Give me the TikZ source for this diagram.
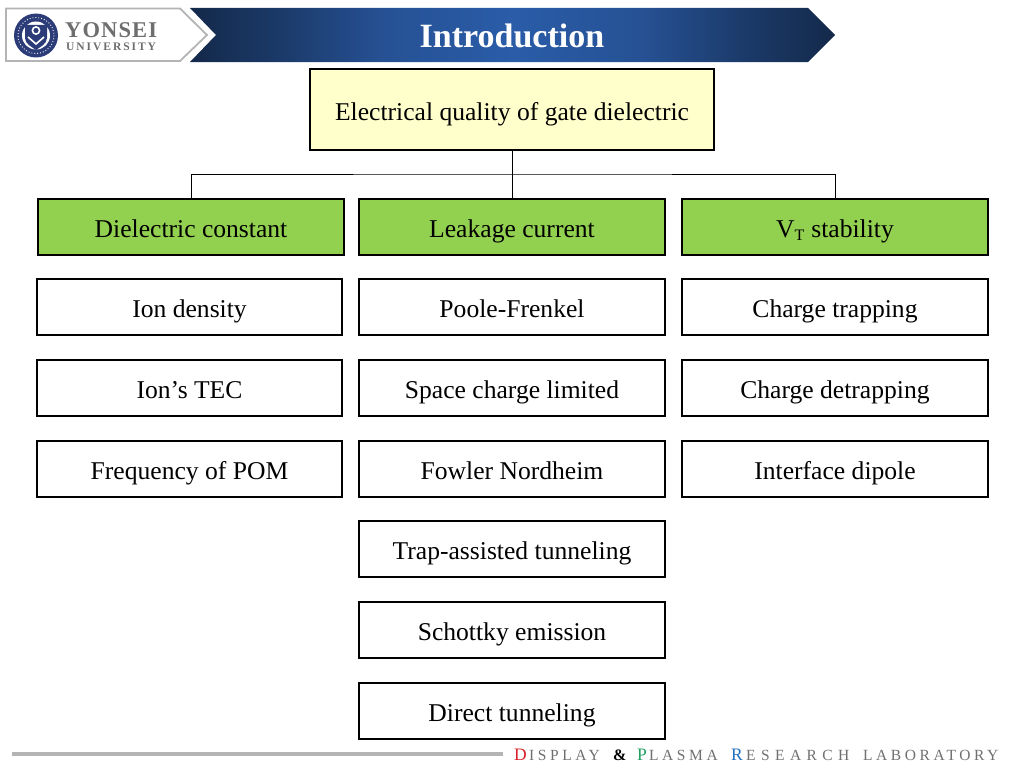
\documentclass[tikz,border=0pt]{standalone}
\usepackage{fontspec}
\setmainfont{Liberation Serif}
\usetikzlibrary{calc}
\definecolor{bandDark}{HTML}{14294A}
\definecolor{bandMid}{HTML}{2A5CA8}
\definecolor{bandA}{HTML}{1B3A69}
\definecolor{bandB}{HTML}{265194}
\definecolor{crest}{HTML}{2B3C78}
\definecolor{framegrey}{HTML}{B4B4B4}
\definecolor{wordgrey}{HTML}{6E6E6E}
\definecolor{rootfill}{HTML}{FFFFCC}
\definecolor{headfill}{HTML}{92D050}
\definecolor{footgrey}{HTML}{707070}
\definecolor{initD}{HTML}{D8202A}
\definecolor{initP}{HTML}{1FA060}
\definecolor{initR}{HTML}{2070C0}
\pgfdeclarehorizontalshading{bandshade}{100bp}{color(0bp)=(bandDark); color(25bp)=(bandDark); color(32bp)=(bandA); color(40bp)=(bandB); color(50bp)=(bandMid); color(60bp)=(bandB); color(68bp)=(bandA); color(75bp)=(bandDark); color(100bp)=(bandDark)}
\newcommand{\bodysize}{\fontsize{25.6}{29}\selectfont}
\tikzset{
  x=1pt,y=-1pt,
  boxbase/.style={draw=black,line width=2pt,text=black,font=\bodysize,inner sep=0pt,align=center,text height=21.5pt,text depth=0.5pt},
  rootbox/.style={boxbase,fill=rootfill,minimum width=403.5pt,minimum height=80.5pt},
  headbox/.style={boxbase,fill=headfill,minimum width=305.5pt,minimum height=56pt},
  itembox/.style={boxbase,fill=white,minimum width=305.5pt,minimum height=56pt},
  link/.style={draw=black,line width=0.9pt},
  footword/.style={inner sep=0pt,anchor=base west,text=footgrey,font=\fontsize{15.5}{18}\selectfont\addfontfeature{LetterSpace=23}},
  footinit/.style={inner sep=0pt,anchor=base west,font=\fontsize{17.5}{20}\selectfont}
}
\begin{document}
\begin{tikzpicture}
\useasboundingbox (0,0) rectangle (1024,768);
\fill[white] (0,0) rectangle (1024,768);
% header band
\shade[shading=bandshade]
  (190,8) -- (808,8) -- (835,35) -- (808,62) -- (190,62) -- (216,35) -- cycle;
\node[text=white,font=\fontsize{34}{38}\selectfont\bfseries,inner sep=0pt] (title) at (512,36) {Introduction};
% logo plate
\draw[framegrey,line width=1.8pt,fill=white,line join=miter]
  (6,8.5) -- (180,8.5) -- (207,35) -- (180,61) -- (6,61) -- cycle;
\fill[crest] (36,35.5) circle (22);
\draw[white,line width=0.9pt,dotted] (36,35.5) circle (18);
\fill[white] (36,35.5) circle (14);
\fill[crest] (25,25) -- (47,25) -- (47,38) .. controls (47,44) and (40,47) .. (36,50) .. controls (32,47) and (25,44) .. (25,38) -- cycle;
\draw[white,line width=1.6pt] (36,30.5) circle (3.6);
\draw[white,line width=1.6pt] (28,37) -- (36,44) -- (44,37);
\node[text=wordgrey,font=\fontsize{22.5}{24}\selectfont\bfseries\addfontfeature{LetterSpace=5},inner sep=0pt,anchor=base west] (yonsei) at (65,37.5) {YONSEI};
\node[text=wordgrey,font=\fontsize{11.5}{13}\selectfont\bfseries\addfontfeature{LetterSpace=17},inner sep=0pt,anchor=base west] (univ) at (66,50.5) {UNIVERSITY};
% root
\node[rootbox] (root) at (512,109.5) {Electrical quality of gate dielectric};
% column heads
\node[headbox] (h1) at (191,226.5) {Dielectric constant};
\node[headbox] (h2) at (512,226.5) {Leakage current};
\node[headbox] (h3) at (835,226.5) {V\textsubscript{\fontsize{16}{16}\selectfont T} stability};
% connectors
\coordinate (bus) at (512,174);
\draw[link] (root.south) -- (h2.north);
\draw[link] (h1.north) |- (bus) -| (h3.north);
% column 1
\node[itembox] (a1) at (189.5,307) {Ion density};
\node[itembox] (a2) at (189.5,388) {Ion’s TEC};
\node[itembox] (a3) at (189.5,468.5) {Frequency of POM};
% column 2
\node[itembox] (b1) at (512,307) {Poole-Frenkel};
\node[itembox] (b2) at (512,388) {Space charge limited};
\node[itembox] (b3) at (512,468.5) {Fowler Nordheim};
\node[itembox] (b4) at (512,549) {Trap-assisted tunneling};
\node[itembox] (b5) at (512,630) {Schottky emission};
\node[itembox] (b6) at (512,710.5) {Direct tunneling};
% column 3
\node[itembox] (c1) at (835,307) {Charge trapping};
\node[itembox] (c2) at (835,388) {Charge detrapping};
\node[itembox] (c3) at (835,468.5) {Interface dipole};
% footer
\fill[framegrey] (12,752) rectangle (503,756);
\node[footinit,text=initD] (fD) at (514,760) {D};
\node[footword] (fI) at (529,760) {ISPLAY};
\node[footinit,text=black,font=\fontsize{16}{18}\selectfont\bfseries] (fA) at (613,760) {\&};
\node[footinit,text=initP] (fP) at (637,760) {P};
\node[footword] (fL) at (649,760) {LASMA};
\node[footinit,text=initR] (fR) at (731,760) {R};
\node[footword,font=\fontsize{15.5}{18}\selectfont\addfontfeature{LetterSpace=35}] (fE) at (746,760) {ESEARCH};
\node[footword] (fB) at (863,760) {LABORATORY};
\end{tikzpicture}
\end{document}
